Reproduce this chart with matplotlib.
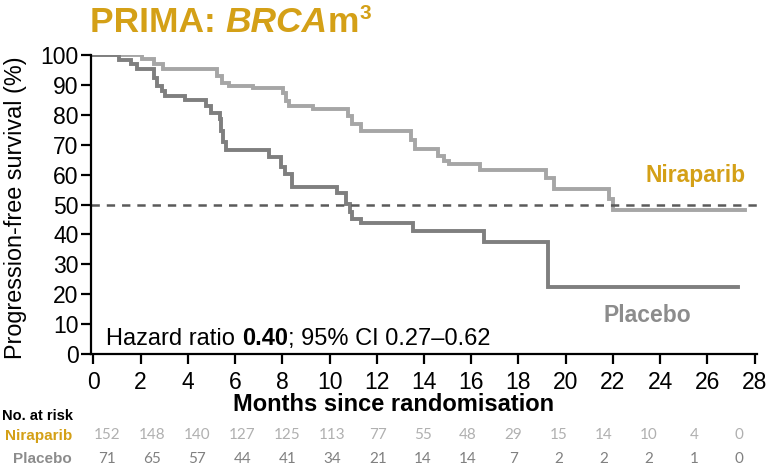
import numpy as np
import matplotlib
matplotlib.use("Agg")
import matplotlib.pyplot as plt

# Kaplan-Meier steps: months since randomisation / progression-free survival (%)
nira_t = [0, 2.06, 2.55, 2.95, 5.25, 5.45, 5.75, 6.75, 8.05, 8.15, 8.3, 9.3, 10.8,
          10.95, 11.35, 13.45, 13.6, 14.6, 14.85, 15.05, 16.35, 19.15, 19.5, 21.85,
          22.0, 27.6]
nira_s = [100, 98.6, 96.9, 95.2, 93.0, 90.8, 89.7, 88.9, 87.4, 84.7, 83.0, 81.9, 79.7,
          76.9, 74.7, 71.5, 68.6, 66.3, 64.7, 63.6, 61.7, 58.9, 55.2, 51.9,
          48.0, 48.0]
plac_t = [0, 1.07, 1.6, 1.85, 2.58, 2.68, 2.9, 3.05, 3.88, 4.78, 5.0, 5.35, 5.42, 5.5,
          5.62, 7.45, 7.95, 8.1, 8.42, 10.3, 10.7, 10.88, 10.95, 11.35, 13.55, 16.55,
          19.25, 27.3]
plac_s = [100, 98.2, 96.9, 95.2, 92.4, 89.7, 88.0, 86.3, 84.9, 83.0, 80.5, 78.6, 74.7, 70.8,
          68.2, 65.8, 62.5, 60.2, 55.8, 53.8, 50.2, 47.4, 45.2, 43.8, 41.1, 37.4,
          22.4, 22.4]

# number at risk, every 2 months
risk_months = list(range(0, 29, 2))
risk_nira = [152, 148, 140, 127, 125, 113, 77, 55, 48, 29, 15, 14, 10, 4, 0]
risk_plac = [71, 65, 57, 44, 41, 34, 21, 14, 14, 7, 2, 2, 2, 1, 0]

hazard_ratio = "0.40"
ci_text = "; 95% CI 0.27\u20130.62"

GOLD = "#d4a017"
NIRA_COL = "#a6a6a6"
PLAC_COL = "#7f7f7f"

plt.rcParams["font.family"] = ["Liberation Sans", "DejaVu Sans"]
plt.rcParams["lines.scale_dashes"] = False

W, H = 769, 469
fig = plt.figure(figsize=(W / 100, H / 100), dpi=100)
ax = fig.add_axes([91 / W, 1 - 354 / H, 666 / W, 299 / H])

ax.step(nira_t, nira_s, where="post", color=NIRA_COL, lw=2.8, solid_joinstyle="miter")
ax.step(plac_t, plac_s, where="post", color=PLAC_COL, lw=2.8, solid_joinstyle="miter")
ax.axhline(50, color="#5a5a5a", lw=1.8, dashes=(6, 5))

ax.set_xlim(-0.1, 28.1)
ax.set_ylim(0, 100)
ax.set_xticks(range(0, 29, 2))
ax.set_yticks(range(0, 101, 10))
for side in ("top", "right"):
    ax.spines[side].set_visible(False)
for side in ("left", "bottom"):
    ax.spines[side].set_linewidth(1.6)
ax.tick_params(axis="y", width=1.6, length=7, labelsize=16.5, pad=2)
ax.tick_params(axis="x", width=1.6, length=7, labelsize=16.5, pad=5)

ax.set_ylabel("Progression-free survival (%)", fontsize=16.8)
ax.yaxis.set_label_coords(-64 / 666, 0.49)
fig.text(394 / W, 1 - 410.5 / H, "Months since randomisation", fontsize=17,
         fontweight="bold", ha="center", va="baseline")

ax.text(25.5, 57.5, "Niraparib", color=GOLD, fontsize=16.5, fontweight="bold",
        ha="center", va="baseline")
ax.text(23.45, 10.7, "Placebo", color="#8c8c8c", fontsize=16.5, fontweight="bold",
        ha="center", va="baseline")

hr1 = ax.text(0.55, 3.0, "Hazard ratio ", fontsize=17, va="baseline")
hr2 = ax.annotate(hazard_ratio, xy=(1, 0), xycoords=hr1, va="bottom",
                  fontsize=17, fontweight="bold")
ax.annotate(ci_text, xy=(1, 0), xycoords=hr2, va="bottom", fontsize=17)

# title built from pieces so BRCA can be italic and the 3 raised
t1 = fig.text(90 / W, 1 - 31.7 / H, "PRIMA: ", color=GOLD, fontsize=25.5,
              fontweight="bold", va="baseline")
t2 = ax.annotate("BRCA", xy=(1, 0), xycoords=t1, va="bottom", color=GOLD,
                 fontsize=25.5, fontweight="bold", style="italic",
                 annotation_clip=False)
t3 = ax.annotate("m", xy=(1, 0), xycoords=t2, va="bottom", color=GOLD,
                 fontsize=25.5, fontweight="bold", annotation_clip=False)
ax.annotate("3", xy=(1, 1), xycoords=t3, va="top", color=GOLD, fontsize=15,
            fontweight="bold", xytext=(0.5, 1), textcoords="offset points",
            annotation_clip=False)

# number-at-risk table under the axis
fig.text(73 / W, 1 - 420 / H, "No. at risk", fontsize=10.5, fontweight="bold",
         ha="right", va="baseline")
fig.text(72 / W, 1 - 439.5 / H, "Niraparib", fontsize=11, fontweight="bold",
         color=GOLD, ha="right", va="baseline")
fig.text(72 / W, 1 - 463 / H, "Placebo", fontsize=11, fontweight="bold",
         color="#8c8c8c", ha="right", va="baseline")
col_x = np.linspace(106.7, 739, len(risk_months)) / W
for x, n_nira, n_plac in zip(col_x, risk_nira, risk_plac):
    fig.text(x, 1 - 439 / H, str(n_nira), fontsize=11, color="#b0b0b0",
             family=["Lato", "DejaVu Sans"], ha="center", va="baseline")
    fig.text(x, 1 - 463 / H, str(n_plac), fontsize=11, color="#808080",
             family=["Lato", "DejaVu Sans"], ha="center", va="baseline")

fig.savefig("out.png", dpi=100)
